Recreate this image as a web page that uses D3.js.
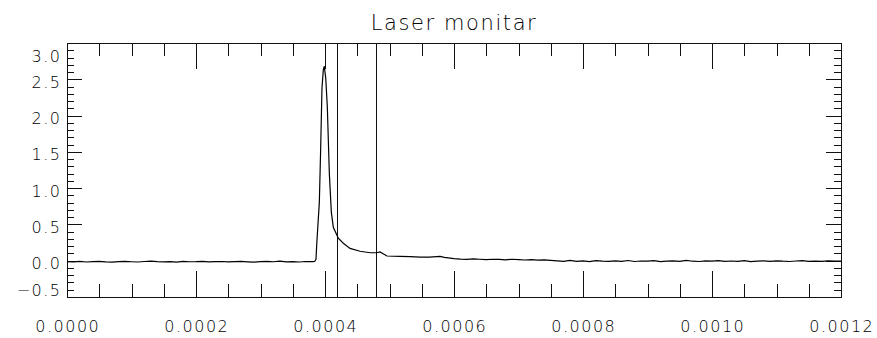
<!DOCTYPE html>
<html>
<head>
<meta charset="utf-8">
<script src="https://cdn.jsdelivr.net/npm/d3@7"></script>
<style>
  html, body { margin: 0; padding: 0; background: #fff; }
  svg { display: block; }
  text { font-family: "DejaVu Sans", "Liberation Sans", sans-serif; fill: #000; }
</style>
</head>
<body>
<svg id="chart" width="877" height="338"></svg>
<script>
// Laser monitor trace: time in microseconds, signal in volts
const timeUs = [
  0, 10, 20, 30, 40, 50, 60, 70, 80, 90,
  100, 110, 120, 130, 140, 150, 160, 170, 180, 190,
  200, 210, 220, 230, 240, 250, 260, 270, 280, 290,
  300, 310, 320, 330, 340, 350, 360, 370, 380, 384,
  386.0, 387.6, 391.2, 393.3, 395.3, 397.4, 398.9, 401.1, 403.6, 406.7,
  409.8, 412.9, 416.6, 420.6, 428.4, 438.8, 454.3, 469.8, 480.2, 485.3,
  491.5, 496.1, 516.3, 532.0, 547.3, 562.0, 578.3, 585.0, 600,
  610, 620, 630, 640, 650, 660, 670, 680, 690, 700,
  710, 720, 730, 740, 750,
  760, 770, 780, 790, 800, 810, 820, 830, 840, 850,
  860, 870, 880, 890, 900, 910, 920, 930, 940, 950,
  960, 970, 980, 990, 1000, 1010, 1020, 1030, 1040, 1050,
  1060, 1070, 1080, 1090, 1100, 1110, 1120, 1130, 1140, 1150,
  1160, 1170, 1180, 1190, 1200
];
const signalV = [
  -0.012, -0.015, -0.010, -0.018, -0.012, -0.008, -0.015, -0.020, -0.012, -0.010,
  -0.014, -0.018, -0.011, -0.006, -0.013, -0.016, -0.012, -0.019, -0.010, -0.014,
  -0.012, -0.008, -0.016, -0.013, -0.011, -0.017, -0.012, -0.009, -0.015, -0.020,
  -0.013, -0.010, -0.014, -0.007, -0.016, -0.012, -0.018, -0.011, -0.013, -0.010,
  0.02, 0.29, 0.80, 1.55, 2.38, 2.63, 2.68, 2.52, 2.12, 1.21,
  0.67, 0.46, 0.39, 0.31, 0.24, 0.17, 0.13, 0.11, 0.11, 0.12,
  0.09, 0.065, 0.06, 0.055, 0.05, 0.05, 0.06, 0.045, 0.03,
  0.022, 0.018, 0.025, 0.020, 0.015, 0.020, 0.018, 0.012, 0.020, 0.016,
  0.010, 0.014, 0.008, 0.012, 0.005,
  -0.002, -0.010, 0.004, -0.008, -0.003, -0.012, 0.002, -0.006, -0.010, -0.001,
  -0.008, 0.003, -0.011, -0.004, -0.007, 0.001, -0.012, -0.005, -0.002, -0.009,
  0.004, -0.007, -0.011, -0.003, -0.006, 0.000, -0.010, -0.004, -0.008, 0.002,
  -0.012, -0.006, -0.003, -0.009, -0.001, -0.007, -0.011, -0.004, 0.001, -0.008,
  -0.005, -0.010, -0.002, -0.006, -0.004
];
// Gate markers (seconds)
const markerTimes = [0.00042, 0.00048];

// Axis ticks
const xMajor = [0, 0.0002, 0.0004, 0.0006, 0.0008, 0.0010, 0.0012];
const xMinor = [0.00005, 0.0001, 0.00015, 0.00025, 0.0003, 0.00035, 0.00045, 0.0005, 0.00055,
                0.00065, 0.0007, 0.00075, 0.00085, 0.0009, 0.00095, 0.00105, 0.0011, 0.00115];
const yMajor = [-0.5, 0.0, 0.5, 1.0, 1.5, 2.0, 2.5, 3.0];
const yMinor = [-0.4, -0.3, -0.2, -0.1, 0.1, 0.2, 0.3, 0.4, 0.6, 0.7, 0.8, 0.9,
                1.1, 1.2, 1.3, 1.4, 1.6, 1.7, 1.8, 1.9, 2.1, 2.2, 2.3, 2.4, 2.6, 2.7, 2.8, 2.9];
const titleText = "Laser monitar";

const plotLeft = 67, plotRight = 841, plotTop = 43, plotBottom = 297;
const svg = d3.select("#chart");

const x = d3.scaleLinear().domain([0, 0.0012]).range([plotLeft, plotRight]);
const y = d3.scaleLinear().domain([-0.5, 3.0]).range([plotBottom, plotTop]);

// Tick marks pointing inward on all four sides
function ticks(axis, values, size, transform) {
  const g = svg.append("g")
    .attr("transform", transform)
    .call(axis.tickValues(values).tickSize(-size).tickFormat(""));
  g.select(".domain").remove();
  g.selectAll("line").attr("stroke", "#111").attr("stroke-width", 1).attr("shape-rendering", "crispEdges");
}
ticks(d3.axisBottom(x), xMajor, 26, `translate(0,${plotBottom})`);
ticks(d3.axisBottom(x), xMinor, 13, `translate(0,${plotBottom})`);
ticks(d3.axisTop(x), xMajor, 26, `translate(0,${plotTop})`);
ticks(d3.axisTop(x), xMinor, 13, `translate(0,${plotTop})`);
ticks(d3.axisLeft(y), yMajor, 15, `translate(${plotLeft},0)`);
ticks(d3.axisLeft(y), yMinor, 7, `translate(${plotLeft},0)`);
ticks(d3.axisRight(y), yMajor, 15, `translate(${plotRight},0)`);
ticks(d3.axisRight(y), yMinor, 7, `translate(${plotRight},0)`);

// Frame
svg.append("rect")
  .attr("x", plotLeft).attr("y", plotTop)
  .attr("width", plotRight - plotLeft).attr("height", plotBottom - plotTop)
  .attr("fill", "none").attr("stroke", "#111").attr("stroke-width", 1)
  .attr("shape-rendering", "crispEdges");

// Marker lines
svg.selectAll("line.marker").data(markerTimes).join("line")
  .attr("class", "marker")
  .attr("x1", d => x(d)).attr("x2", d => x(d))
  .attr("y1", plotTop).attr("y2", plotBottom)
  .attr("stroke", "#111").attr("stroke-width", 1).attr("shape-rendering", "crispEdges");

// Trace
const pts = timeUs.map((t, i) => [t * 1e-6, signalV[i]]);
svg.append("path")
  .datum(pts)
  .attr("fill", "none")
  .attr("stroke", "#000")
  .attr("stroke-width", 1.2)
  .attr("d", d3.line().x(d => x(d[0])).y(d => y(d[1])));

// Tick labels
svg.selectAll("text.xl").data(xMajor).join("text")
  .attr("class", "xl")
  .attr("x", d => x(d) + 0.75)
  .attr("y", 332)
  .attr("text-anchor", "middle")
  .style("font-size", "16px")
  .style("font-weight", 200)
  .style("letter-spacing", "1.5px")
  .text(d => d3.format(".4f")(d));

svg.selectAll("text.yl").data(yMajor).join("text")
  .attr("class", "yl")
  .attr("x", 61.5)
  .attr("y", d => Math.min(Math.max(y(d) + 8.5, 62), 296))
  .attr("text-anchor", "end")
  .style("font-size", "16px")
  .style("font-weight", 200)
  .style("letter-spacing", "1.5px")
  .text(d => d3.format(".1f")(d).replace("-", "\u2212"));

// Title
svg.append("text")
  .attr("x", (plotLeft + plotRight) / 2)
  .attr("y", 30)
  .attr("text-anchor", "middle")
  .style("font-size", "21px")
  .style("font-weight", 200)
  .style("letter-spacing", "1.6px")
  .text(titleText);
</script>
</body>
</html>
